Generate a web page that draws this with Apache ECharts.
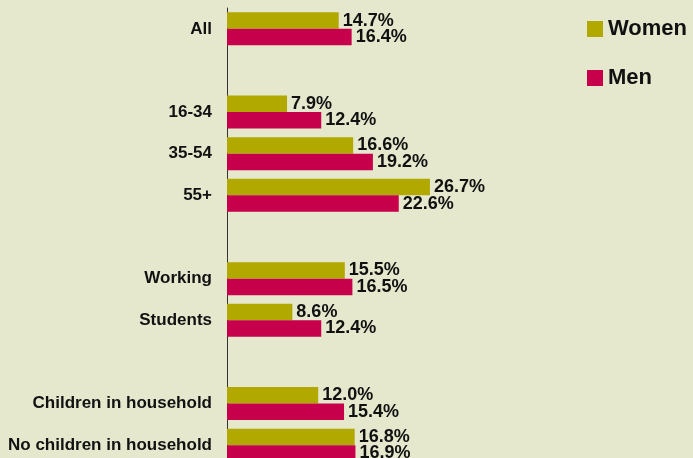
<!DOCTYPE html>
<html>
<head>
<meta charset="utf-8">
<script src="https://cdn.jsdelivr.net/npm/echarts@6/dist/echarts.min.js"></script>
<style>
  html, body { margin: 0; padding: 0; background: #e5e8cd; overflow: hidden; }
  /* chart runs a little past the bottom of the window, like the original crop */
  #chart { width: 693px; height: 466px; }
</style>
</head>
<body>
<div id="chart"></div>
<script>
// categories (empty strings are the gaps between groups)
const categories = ['All', '', '16-34', '35-54', '55+', '', 'Working', 'Students', '', 'Children in household', 'No children in household']
const women = [14.7, null, 7.9, 16.6, 26.7, null, 15.5, 8.6, null, 12.0, 16.8]
const men = [16.4, null, 12.4, 19.2, 22.6, null, 16.5, 12.4, null, 15.4, 16.9]

const chart = echarts.init(document.getElementById('chart'))

const labelStyle = {
    show: true,
    position: 'right',
    distance: 4,
    color: '#111',
    fontFamily: 'Liberation Sans',
    fontWeight: 'bold',
    fontSize: 18,
    formatter: (p) => p.value.toFixed(1) + '%'
}

chart.setOption({
    backgroundColor: '#e5e8cd',
    animation: false,
    legend: {
        orient: 'vertical',
        left: 582,
        top: 13,
        itemWidth: 16,
        itemHeight: 16,
        itemGap: 27,
        icon: 'rect',
        textStyle: {
            fontFamily: 'Liberation Sans',
            fontWeight: 'bold',
            fontSize: 22,
            color: '#111'
        },
        data: ['Women', 'Men']
    },
    grid: {
        left: 227,
        top: 8,
        right: 86,
        bottom: 0
    },
    xAxis: {
        type: 'value',
        min: 0,
        max: 50,
        show: false
    },
    yAxis: {
        type: 'category',
        inverse: true,
        data: categories,
        axisLine: { show: true, lineStyle: { color: '#333', width: 1 } },
        axisTick: { show: false },
        axisLabel: {
            margin: 15,
            color: '#111',
            fontFamily: 'Liberation Sans',
            fontWeight: 'bold',
            fontSize: 17
        }
    },
    series: [
        {
            name: 'Women',
            type: 'bar',
            data: women,
            barWidth: 16.5,
            barGap: '0%',
            itemStyle: { color: '#b1a800' },
            label: labelStyle
        },
        {
            name: 'Men',
            type: 'bar',
            data: men,
            barWidth: 16.5,
            barGap: '0%',
            itemStyle: { color: '#c6004a' },
            label: labelStyle
        }
    ]
})
</script>
</body>
</html>
